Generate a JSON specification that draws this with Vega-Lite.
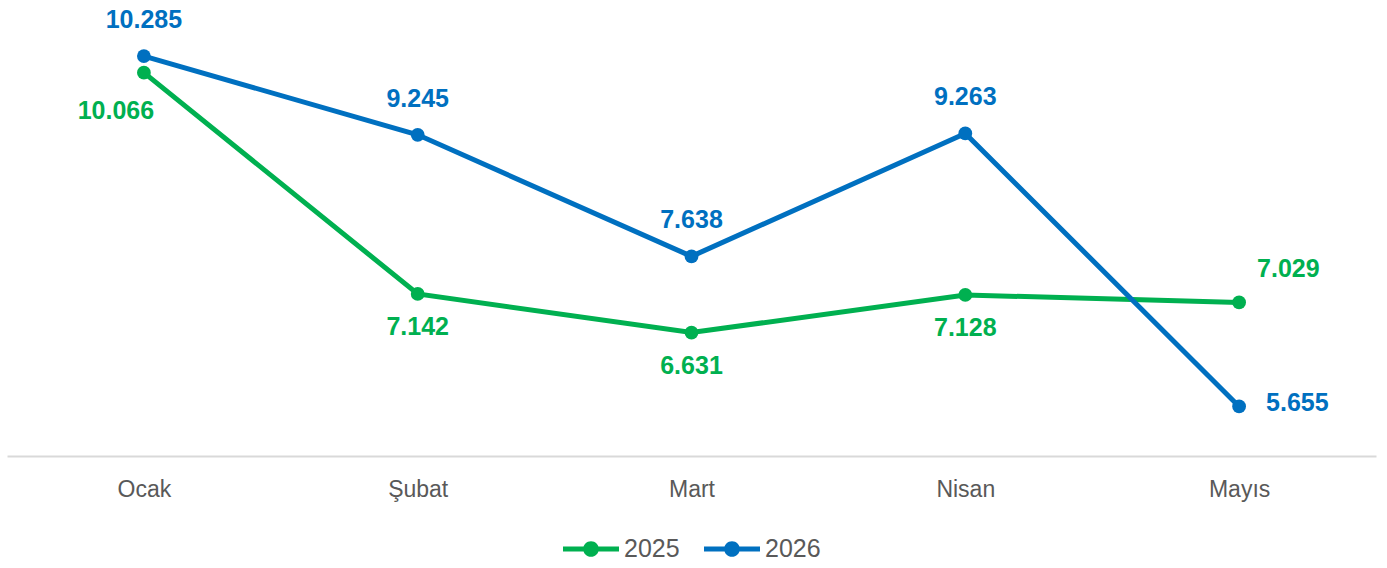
{
  "$schema": "https://vega.github.io/schema/vega-lite/v6.json",
  "width": 1369,
  "height": 454,
  "padding": {"left": 7, "top": 2, "right": 11, "bottom": 0},
  "config": {
    "view": {"stroke": null},
    "locale": {"number": {"decimal": ",", "thousands": ".", "grouping": [3], "currency": ["", " ₺"]}},
    "font": "Liberation Sans"
  },
  "data": {
    "values": [
      {"month": "Ocak", "year": "2025", "value": 10066},
      {"month": "Şubat", "year": "2025", "value": 7142},
      {"month": "Mart", "year": "2025", "value": 6631},
      {"month": "Nisan", "year": "2025", "value": 7128},
      {"month": "Mayıs", "year": "2025", "value": 7029},
      {"month": "Ocak", "year": "2026", "value": 10285},
      {"month": "Şubat", "year": "2026", "value": 9245},
      {"month": "Mart", "year": "2026", "value": 7638},
      {"month": "Nisan", "year": "2026", "value": 9263},
      {"month": "Mayıs", "year": "2026", "value": 5655}
    ]
  },
  "encoding": {
    "x": {
      "field": "month", "type": "ordinal",
      "sort": ["Ocak", "Şubat", "Mart", "Nisan", "Mayıs"],
      "scale": {"type": "point", "padding": 0.5},
      "axis": {
        "title": null, "labelAngle": 0, "ticks": false, "grid": false,
        "labelFontSize": 23, "labelColor": "#595959", "labelFont": "Liberation Sans",
        "domainColor": "#D9D9D9", "domainWidth": 2, "labelPadding": 22
      }
    },
    "y": {
      "field": "value", "type": "quantitative",
      "scale": {"domain": [5000, 11000], "zero": false, "nice": false},
      "axis": null
    }
  },
  "layer": [
    {
      "mark": {"type": "line", "strokeWidth": 5, "point": {"filled": true, "size": 190}},
      "encoding": {
        "color": {
          "field": "year", "type": "nominal",
          "scale": {"domain": ["2025", "2026"], "range": ["#00B050", "#0070C0"]},
          "legend": {
            "orient": "none", "legendX": 556, "legendY": 519, "direction": "horizontal", "title": null,
            "symbolType": "M-1,-0.09L1,-0.09L1,0.09L-1,0.09Z M0.28,0A0.28,0.28 0 1,1 -0.28,0A0.28,0.28 0 1,1 0.28,0Z",
            "symbolSize": 3136, "symbolStrokeWidth": 0,
            "labelFontSize": 25, "labelColor": "#595959", "labelFont": "Liberation Sans",
            "labelOffset": 5, "columnPadding": 24,
            "encode": {"symbols": {"update": {"fill": {"scale": "color", "field": "value"}, "opacity": {"value": 1}}}}
          }
        }
      }
    },
    {
      "transform": [{"filter": "datum.year == '2026' && datum.month != 'Mayıs'"}],
      "mark": {"type": "text", "fontSize": 25, "fontWeight": "bold", "color": "#0070C0", "dy": -36, "baseline": "middle"},
      "encoding": {"text": {"field": "value", "type": "quantitative", "format": ","}}
    },
    {
      "transform": [{"filter": "datum.year == '2026' && datum.month == 'Mayıs'"}],
      "mark": {"type": "text", "fontSize": 25, "fontWeight": "bold", "color": "#0070C0", "dx": 27, "dy": -3, "align": "left", "baseline": "middle"},
      "encoding": {"text": {"field": "value", "type": "quantitative", "format": ","}}
    },
    {
      "transform": [{"filter": "datum.year == '2025' && datum.month == 'Ocak'"}],
      "mark": {"type": "text", "fontSize": 25, "fontWeight": "bold", "color": "#00B050", "dx": -28, "dy": 38, "baseline": "middle"},
      "encoding": {"text": {"field": "value", "type": "quantitative", "format": ","}}
    },
    {
      "transform": [{"filter": "datum.year == '2025' && datum.month != 'Ocak' && datum.month != 'Mayıs'"}],
      "mark": {"type": "text", "fontSize": 25, "fontWeight": "bold", "color": "#00B050", "dy": 33, "baseline": "middle"},
      "encoding": {"text": {"field": "value", "type": "quantitative", "format": ","}}
    },
    {
      "transform": [{"filter": "datum.year == '2025' && datum.month == 'Mayıs'"}],
      "mark": {"type": "text", "fontSize": 25, "fontWeight": "bold", "color": "#00B050", "dx": 18, "dy": -33, "align": "left", "baseline": "middle"},
      "encoding": {"text": {"field": "value", "type": "quantitative", "format": ","}}
    }
  ]
}
